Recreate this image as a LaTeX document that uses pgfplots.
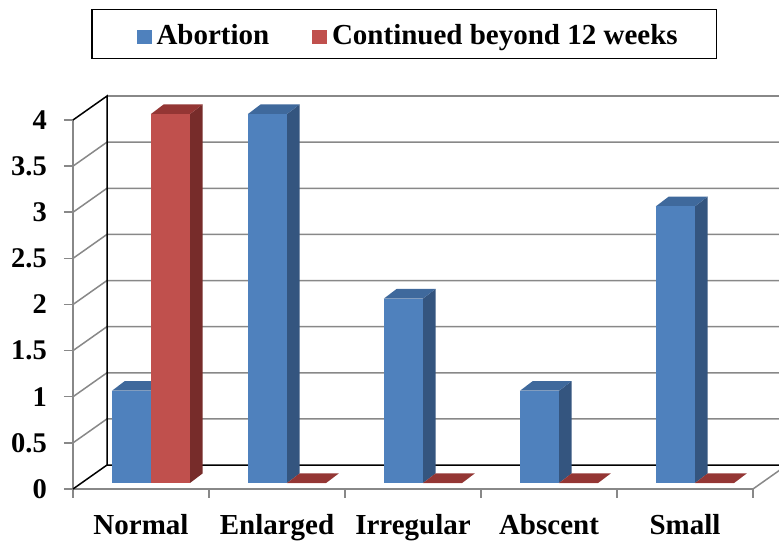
\documentclass[border=0pt]{standalone}
\usepackage{fontspec}
\setmainfont{Liberation Serif}
\usepackage{pgfplots}
\pgfplotsset{compat=1.18}
\usepackage{pgfplotstable}
\definecolor{bluefront}{HTML}{4F81BD}
\definecolor{bluetop}{HTML}{3F699C}
\definecolor{blueside}{HTML}{34557F}
\definecolor{redfront}{HTML}{C0504D}
\definecolor{redtop}{HTML}{943634}
\definecolor{redside}{HTML}{772C2A}
\definecolor{gridgray}{HTML}{888888}

\pgfplotstableread{
idx ab co
0 1 4
1 4 0
2 2 0
3 1 0
4 3 0
}\datatable

% one 3-D looking bar: #1 left x, #2 right x, #3 value, #4-#6 colours
\newcommand\drawbar[6]{%
 \pgfmathsetmacro\xa{#1}\pgfmathsetmacro\xb{#2}%
 \pgfmathsetmacro\yb{0.065}\pgfmathsetmacro\yt{0.065+#3}%
 \pgfmathsetmacro\xc{\xb+0.092}\pgfmathsetmacro\xd{\xa+0.092}%
 \pgfmathsetmacro\ybb{\yb+0.103}\pgfmathsetmacro\ytt{\yt+0.103}%
 \edef\tmp{%
  \noexpand\addplot[fill=#6, draw=none, forget plot] coordinates {(\xb,\yb) (\xc,\ybb) (\xc,\ytt) (\xb,\yt)};
  \noexpand\addplot[fill=#5, draw=none, forget plot] coordinates {(\xa,\yt) (\xb,\yt) (\xc,\ytt) (\xd,\ytt)};
  \noexpand\addplot[fill=#4, draw=none, forget plot] coordinates {(\xa,\yb) (\xb,\yb) (\xb,\yt) (\xa,\yt)};
 }\tmp}

\begin{document}
\begin{tikzpicture}
\begin{axis}[
  at={(73pt,56pt)}, anchor=south west,
  scale only axis, width=680pt, height=369pt,
  xmin=-0.5, xmax=4.5, ymin=0, ymax=4,
  clip=false,
  axis x line*=bottom, axis y line*=left,
  axis line style={draw=gridgray, line width=1.5pt},
  xtick={0,1,2,3,4},
  xticklabels={Normal,Enlarged,Irregular,Abscent,Small},
  minor xtick={-0.5,0.5,1.5,2.5,3.5,4.5},
  major x tick style={draw=none},
  minor x tick style={draw=gridgray, line width=1.5pt},
  minor tick length=9pt,
  ytick={0,0.5,...,4},
  major y tick style={draw=gridgray, line width=1.5pt},
  major tick length=9pt,
  tick align=outside,
  /pgf/number format/assume math mode=true,
  yticklabel style={font=\fontsize{28.5}{30}\selectfont\bfseries, anchor=east, inner sep=0pt, xshift=-17pt},
  xticklabel style={font=\fontsize{29}{30}\selectfont\bfseries, anchor=base, inner sep=0pt, yshift=-37pt},
  legend columns=2,
  legend cell align=left,
  legend style={at={(0.02647,1.30081)}, anchor=north west,
    draw=black, line width=1.5pt, inner xsep=34pt, inner ysep=8pt,
    fill=white,
    font=\fontsize{29}{30}\selectfont\bfseries,
    nodes={inner ysep=3pt, inner xsep=5pt, text height=24pt, text depth=3pt},
    /tikz/every even column/.append style={column sep=27pt}},
  legend image code/.code={\path (-10pt,0pt) (0pt,0pt); \fill[#1,draw=none] (0pt,-9.5pt) rectangle (15pt,4.5pt);},
]
% back wall and floor
\draw[gridgray, line width=1.5pt] (axis cs:-0.5,0.5) -- (axis cs:-0.25,0.76) -- (axis cs:4.8,0.76);
\draw[gridgray, line width=1.5pt] (axis cs:-0.5,1) -- (axis cs:-0.25,1.26) -- (axis cs:4.8,1.26);
\draw[gridgray, line width=1.5pt] (axis cs:-0.5,1.5) -- (axis cs:-0.25,1.76) -- (axis cs:4.8,1.76);
\draw[gridgray, line width=1.5pt] (axis cs:-0.5,2) -- (axis cs:-0.25,2.26) -- (axis cs:4.8,2.26);
\draw[gridgray, line width=1.5pt] (axis cs:-0.5,2.5) -- (axis cs:-0.25,2.76) -- (axis cs:4.8,2.76);
\draw[gridgray, line width=1.5pt] (axis cs:-0.5,3) -- (axis cs:-0.25,3.26) -- (axis cs:4.8,3.26);
\draw[gridgray, line width=1.5pt] (axis cs:-0.5,3.5) -- (axis cs:-0.25,3.76) -- (axis cs:4.8,3.76);
\draw[gridgray, line width=1.5pt] (axis cs:-0.25,4.26) -- (axis cs:4.8,4.26);
\draw[gridgray, line width=1.5pt] (axis cs:4.5,0) -- (axis cs:4.75,0.26);
\draw[black, line width=1.5pt] (axis cs:-0.5,4) -- (axis cs:-0.25,4.26) -- (axis cs:-0.25,0.26) -- (axis cs:4.8,0.26);
\draw[black, line width=1.5pt] (axis cs:-0.5,0) -- (axis cs:-0.25,0.26);
% bars
\pgfplotsinvokeforeach{0,1,2,3,4}{
  \pgfplotstablegetelem{#1}{ab}\of\datatable \let\va\pgfplotsretval
  \pgfplotstablegetelem{#1}{co}\of\datatable \let\vc\pgfplotsretval
  \drawbar{#1+0.0735-0.2868}{#1+0.0735}{\va}{bluefront}{bluetop}{blueside}
  \drawbar{#1+0.0735}{#1+0.0735+0.2868}{\vc}{redfront}{redtop}{redside}
}
\addlegendimage{fill=bluefront}
\addlegendentry{Abortion}
\addlegendimage{fill=redfront}
\addlegendentry{Continued beyond 12 weeks}
\end{axis}
\pgfresetboundingbox
\useasboundingbox (0,0) rectangle (779pt,545pt);
\end{tikzpicture}
\end{document}
